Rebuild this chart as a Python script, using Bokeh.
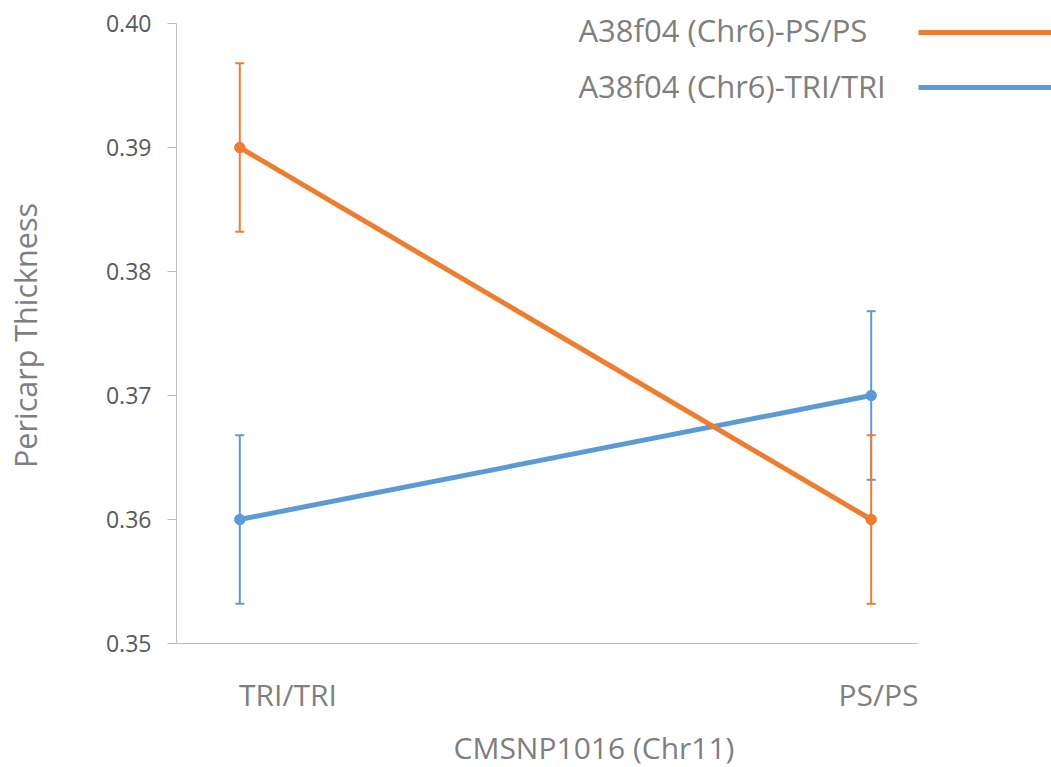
import math
from bokeh.plotting import figure
from bokeh.models import (ColumnDataSource, Range1d, FixedTicker, PrintfTickFormatter,
                          Whisker, TeeHead, Label, Legend, LegendItem)
from bokeh.embed import file_html
from bokeh.resources import INLINE

# ---- data ----
categories = ["TRI/TRI", "PS/PS"]
cat_x = [0, 1]
series_names = ["A38f04 (Chr6)-PS/PS", "A38f04 (Chr6)-TRI/TRI"]
ps_values = [0.39, 0.36]
ps_errors = [0.0068, 0.0068]
tri_values = [0.36, 0.37]
tri_errors = [0.0068, 0.0068]
y_ticks = [0.35, 0.36, 0.37, 0.38, 0.39, 0.40]
x_title = "CMSNP1016 (Chr11)"
y_title = "Pericarp Thickness"

ORANGE = "#ED7D31"
BLUE = "#5B9BD5"
FONT = "Open Sans"

# visible ranges of the canvas (the axes are drawn at fixed locations inside it)
X_VIEW = (-0.3790, 1.2856)
Y_VIEW = (0.34, 0.401855)
X_AXIS = (-0.1003, 1.0733)
Y_AXIS = (0.35, 0.40)

W, H = 1051, 767
p = figure(width=W, height=H, output_backend="svg", toolbar_location=None,
           x_range=Range1d(*X_VIEW), y_range=Range1d(*Y_VIEW), min_border=0)
p.outline_line_color = None
p.xgrid.visible = False
p.ygrid.visible = False
p.background_fill_color = "white"
p.border_fill_color = "white"

# y axis
ya = p.yaxis[0]
ya.fixed_location = X_AXIS[0]
ya.bounds = Y_AXIS
ya.ticker = FixedTicker(ticks=y_ticks)
ya.formatter = PrintfTickFormatter(format="%.2f")
ya.axis_line_color = "#BFBFBF"
ya.major_tick_line_color = "#BFBFBF"
ya.major_tick_out = 9
ya.major_tick_in = 0
ya.minor_tick_line_color = None
ya.major_label_text_font = FONT
ya.major_label_text_font_size = "23px"
ya.major_label_text_color = "#595959"
ya.major_label_standoff = 16

# x axis (labels placed where the reference shows them)
label_pos = [0.0763, 1.0116]
xa = p.xaxis[0]
xa.fixed_location = Y_AXIS[0]
xa.bounds = X_AXIS
xa.ticker = FixedTicker(ticks=label_pos)
xa.major_label_overrides = {label_pos[i]: categories[i] for i in range(len(categories))}
xa.axis_line_color = "#BFBFBF"
xa.major_tick_line_color = None
xa.major_tick_out = 0
xa.major_tick_in = 0
xa.minor_tick_line_color = None
xa.major_label_text_font = FONT
xa.major_label_text_font_size = "30px"
xa.major_label_text_color = "#7F7F7F"
xa.major_label_standoff = 30

# series: blue (TRI/TRI) first, then orange on top
def draw(values, errors, color):
    src = ColumnDataSource(dict(x=cat_x, y=values,
                                upper=[v + e for v, e in zip(values, errors)],
                                lower=[v - e for v, e in zip(values, errors)]))
    ln = p.line("x", "y", source=src, line_color=color, line_width=5)
    p.scatter("x", "y", source=src, size=10.5, fill_color=color, line_color=color)
    wk = Whisker(source=src, base="x", upper="upper", lower="lower", dimension="height",
                 line_color=color, line_width=2, level="annotation",
                 upper_head=TeeHead(size=9, line_color=color, line_width=2),
                 lower_head=TeeHead(size=9, line_color=color, line_width=2))
    p.add_layout(wk)
    return ln

r_tri = draw(tri_values, tri_errors, BLUE)
r_ps = draw(ps_values, ps_errors, ORANGE)

# axis titles (screen units: x from left, y from bottom)
p.add_layout(Label(x=593.5, y=20.3, x_units="screen", y_units="screen", text=x_title,
                   text_font=FONT, text_font_size="30px", text_color="#7F7F7F",
                   text_align="center", text_baseline="middle"))
p.add_layout(Label(x=24, y=432, x_units="screen", y_units="screen", text=y_title,
                   angle=math.pi / 2, text_font=FONT, text_font_size="30.5px",
                   text_color="#7F7F7F", text_align="center", text_baseline="middle"))

# legend: texts left of the line keys
leg_text_y = [737.3, 682.0]
for name, yy in zip(series_names, leg_text_y):
    p.add_layout(Label(x=578, y=yy, x_units="screen", y_units="screen", text=name,
                       text_font=FONT, text_font_size="31px", text_color="#7F7F7F",
                       text_align="left", text_baseline="middle"))

legend = Legend(items=[LegendItem(label=" ", renderers=[r_ps]),
                       LegendItem(label=" ", renderers=[r_tri])],
                location=(918, 671), orientation="vertical",
                glyph_width=133, glyph_height=18, spacing=37,
                label_standoff=0, label_width=0, label_height=1,
                label_text_font_size="1px", padding=0, margin=0,
                border_line_color=None, background_fill_alpha=0.0)
p.add_layout(legend)

open("out.html", "w").write(file_html(p, INLINE))
